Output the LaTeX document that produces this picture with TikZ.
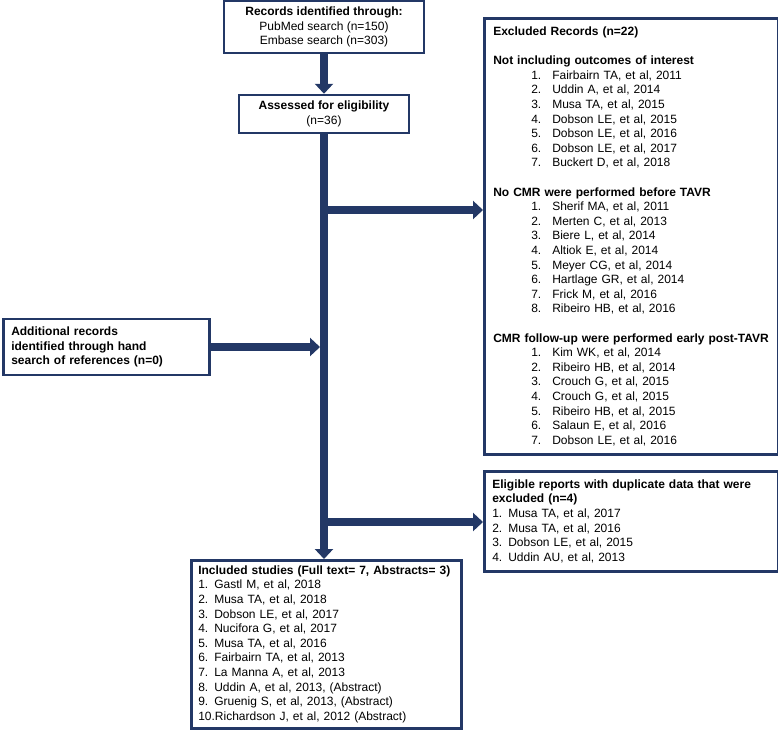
\documentclass[tikz,border=0pt]{standalone}
\usepackage{fontspec}
\setmainfont{Liberation Sans}
\usetikzlibrary{arrows.meta}
\definecolor{navy}{RGB}{35,56,102}
\newcommand{\exitem}[2]{\hspace*{38pt}\makebox[21pt][l]{#1}#2}
\begin{document}
\begin{tikzpicture}[x=1pt,y=-1pt,
  box/.style={draw=navy, line width=2.5pt, fill=white, inner xsep=8pt, inner ysep=3pt,
    font=\fontsize{12}{14.6}\selectfont},
  flow/.style={draw=navy, line width=8pt, -{Triangle[length=10pt,width=18pt]}},
  trunk/.style={draw=navy, line width=8pt}]
\useasboundingbox (0,0) rectangle (778,729);

\node[box, minimum width=200pt, minimum height=52pt, align=center] (top) at (324,27)
  {\textbf{Records identified through:}\\PubMed search (n=150)\\Embase search (n=303)};

\node[box, minimum width=170pt, minimum height=38pt, align=center] (assess) at (324,114)
  {\textbf{Assessed for eligibility}\\(n=36)};

\node[box, anchor=north west, minimum width=294pt, minimum height=436pt,
  text width=276pt, inner xsep=9pt, align=left] (excl) at (483,17)
  {\textbf{Excluded Records (n=22)}\\[14.6pt]
   \textbf{Not including outcomes of interest}\\
   \exitem{1.}{Fairbairn TA, et al, 2011}\\
   \exitem{2.}{Uddin A, et al, 2014}\\
   \exitem{3.}{Musa TA, et al, 2015}\\
   \exitem{4.}{Dobson LE, et al, 2015}\\
   \exitem{5.}{Dobson LE, et al, 2016}\\
   \exitem{6.}{Dobson LE, et al, 2017}\\
   \exitem{7.}{Buckert D, et al, 2018}\\[14.6pt]
   \textbf{No CMR were performed before TAVR}\\
   \exitem{1.}{Sherif MA, et al, 2011}\\
   \exitem{2.}{Merten C, et al, 2013}\\
   \exitem{3.}{Biere L, et al, 2014}\\
   \exitem{4.}{Altiok E, et al, 2014}\\
   \exitem{5.}{Meyer CG, et al, 2014}\\
   \exitem{6.}{Hartlage GR, et al, 2014}\\
   \exitem{7.}{Frick M, et al, 2016}\\
   \exitem{8.}{Ribeiro HB, et al, 2016}\\[14.6pt]
   \textbf{CMR follow-up were performed early post-TAVR}\\
   \exitem{1.}{Kim WK, et al, 2014}\\
   \exitem{2.}{Ribeiro HB, et al, 2014}\\
   \exitem{3.}{Crouch G, et al, 2015}\\
   \exitem{4.}{Crouch G, et al, 2015}\\
   \exitem{5.}{Ribeiro HB, et al, 2015}\\
   \exitem{6.}{Salaun E, et al, 2016}\\
   \exitem{7.}{Dobson LE, et al, 2016}};

\node[box, anchor=north west, minimum width=294pt, minimum height=100pt,
  text width=278pt, align=left] (elig) at (483,470)
  {\textbf{Eligible reports with duplicate data that were}\\
   \textbf{excluded (n=4)}\\
   1. Musa TA, et al, 2017\\
   2. Musa TA, et al, 2016\\
   3. Dobson LE, et al, 2015\\
   4. Uddin AU, et al, 2013};

\node[box, anchor=west, minimum width=206pt, minimum height=56pt,
  text width=190pt, align=left, font=\fontsize{12}{14.6}\selectfont\bfseries] (hand) at (2,347)
  {Additional records\\identified through hand\\search of references (n=0)};

\node[box, anchor=north west, minimum width=270pt, minimum height=168pt,
  text width=256pt, inner xsep=7pt, align=left] (incl) at (190,559)
  {\textbf{Included studies (Full text= 7, Abstracts= 3)}\\
   1. Gastl M, et al, 2018\\
   2. Musa TA, et al, 2018\\
   3. Dobson LE, et al, 2017\\
   4. Nucifora G, et al, 2017\\
   5. Musa TA, et al, 2016\\
   6. Fairbairn TA, et al, 2013\\
   7. La Manna A, et al, 2013\\
   8. Uddin A, et al, 2013, (Abstract)\\
   9. Gruenig S, et al, 2013, (Abstract)\\
   10.Richardson J, et al, 2012 (Abstract)};

\coordinate (b1) at (324,210);
\coordinate (b2) at (320,347);
\coordinate (b3) at (324,522);

\draw[flow] (top.south) -- (assess.north);
\draw[flow] (assess.south) -- (assess.south |- incl.north);
\draw[flow] (b1) -- (excl.west |- b1);
\draw[flow] (hand.east) -- (b2);
\draw[flow] (b3) -- (elig.west |- b3);
\end{tikzpicture}
\end{document}
